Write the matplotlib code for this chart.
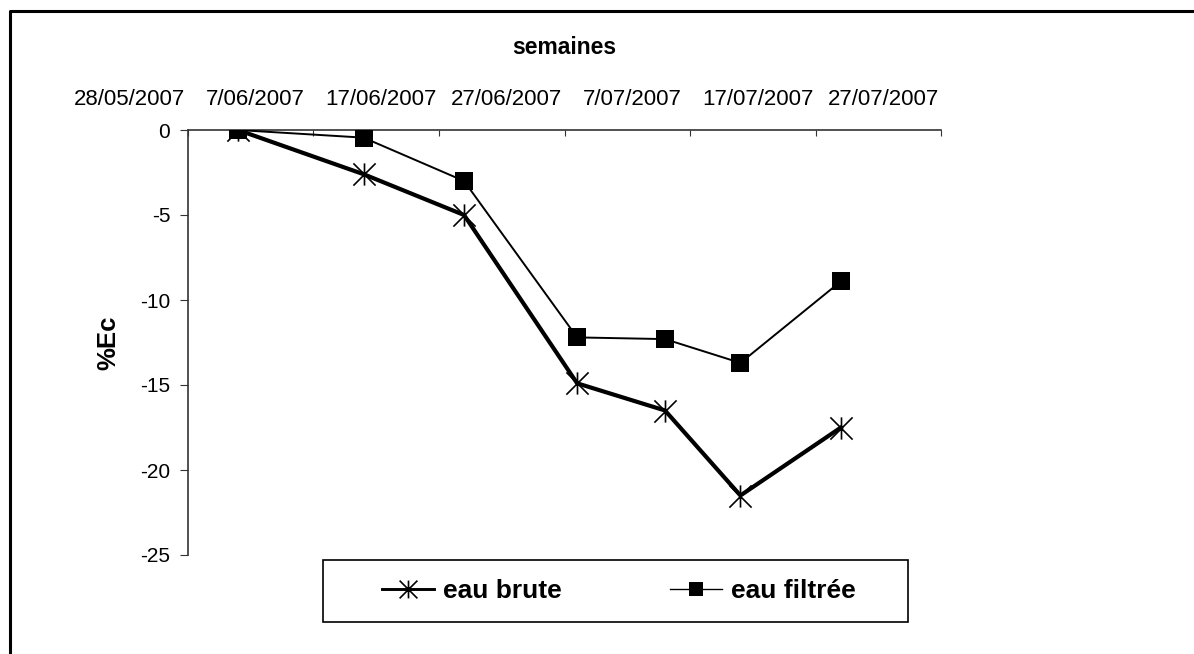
import matplotlib
matplotlib.use("Agg")
import matplotlib.pyplot as plt
import matplotlib.dates as mdates
from matplotlib.lines import Line2D
from matplotlib.patches import Rectangle
from matplotlib.path import Path
from matplotlib.transforms import blended_transform_factory
import numpy as np

plt.rcParams['font.family'] = ['Liberation Sans', 'DejaVu Sans']

# ---- data ----
dates = ['2007-06-07', '2007-06-17', '2007-06-25', '2007-07-04',
         '2007-07-11', '2007-07-17', '2007-07-25']
eau_brute = [0.0, -2.6, -5.0, -14.9, -16.5, -21.5, -17.5]
eau_filtree = [0.0, -0.45, -3.0, -12.2, -12.3, -13.7, -8.9]
tick_labels = ['28/05/2007', '7/06/2007', '17/06/2007', '27/06/2007',
               '7/07/2007', '17/07/2007', '27/07/2007']
yticks = [0, -5, -10, -15, -20, -25]

x = mdates.date2num(np.array(dates, dtype='datetime64[D]'))
x0 = mdates.date2num(np.datetime64('2007-06-03'))
major = [x0 + 10 * i for i in range(7)]

# asterisk marker: vertical bar plus an X
star = Path([(0, -1), (0, 1), (-1, -1), (1, 1), (-1, 1), (1, -1)],
            [Path.MOVETO, Path.LINETO, Path.MOVETO, Path.LINETO,
             Path.MOVETO, Path.LINETO])

W, H = 1194, 654
fig = plt.figure(figsize=(W / 100, H / 100), dpi=100)
ax = fig.add_axes([187.7 / W, 1 - 555 / H, (941.4 - 187.7) / W, (555 - 130) / H])

ax.plot(x, eau_brute, color='black', lw=3.0, marker=star, ms=16,
        mew=1.2, label='eau brute', zorder=3)
ax.plot(x, eau_filtree, color='black', lw=1.4, marker='s', ms=12.5,
        mew=0, label='eau filtrée', zorder=4)

ax.set_xlim(major[0], major[-1])
ax.set_ylim(-25, 0)
ax.set_yticks(yticks)
ax.set_yticklabels([str(v) for v in yticks], fontsize=15)

ax.set_xticks(major)
ax.xaxis.set_ticks_position('top')
ax.tick_params(axis='x', direction='in', length=4.5, color='#333333',
               labeltop=False, labelbottom=False)
ax.tick_params(axis='y', direction='out', length=5.5, pad=7, color='#333333')

for s in ['right', 'bottom']:
    ax.spines[s].set_visible(False)
for s in ['left', 'top']:
    ax.spines[s].set_color('#333333')
    ax.spines[s].set_linewidth(1.2)

trans = blended_transform_factory(ax.transData, ax.transAxes)
for pos, lab in zip(major, tick_labels):
    ax.text(pos - 4.6, 1.072, lab, transform=trans, ha='center', va='center',
            fontsize=16, clip_on=False)

fig.text(564 / W, 1 - 48 / H, 'semaines', ha='center', va='center',
         fontsize=16.5, fontweight='bold')
fig.text(108 / W, 1 - 343 / H, '%Ec', ha='center', va='center',
         fontsize=18.5, fontweight='bold', rotation=90)

# legend frame
fig.add_artist(Rectangle((323 / W, 1 - 622 / H), 585 / W, 62 / H,
                         transform=fig.transFigure, fill=False,
                         edgecolor='black', lw=1.2))
leg = fig.legend(loc='center', ncol=2,
                 bbox_to_anchor=(618.5 / W, 1 - 591 / H),
                 frameon=False, prop={'weight': 'bold', 'size': 19},
                 handlelength=1.97, handletextpad=0.34, columnspacing=4.1,
                 markerscale=0.8)
for h in leg.legend_handles:
    h.set_linewidth(h.get_linewidth() * 0.7)

# outer border (left and top)
fig.add_artist(Line2D([10 / W, 10 / W, 1.0], [0.0, 1 - 11 / H, 1 - 11 / H],
                      transform=fig.transFigure, color='black', lw=2.2))

fig.savefig('out.png', dpi=100)
